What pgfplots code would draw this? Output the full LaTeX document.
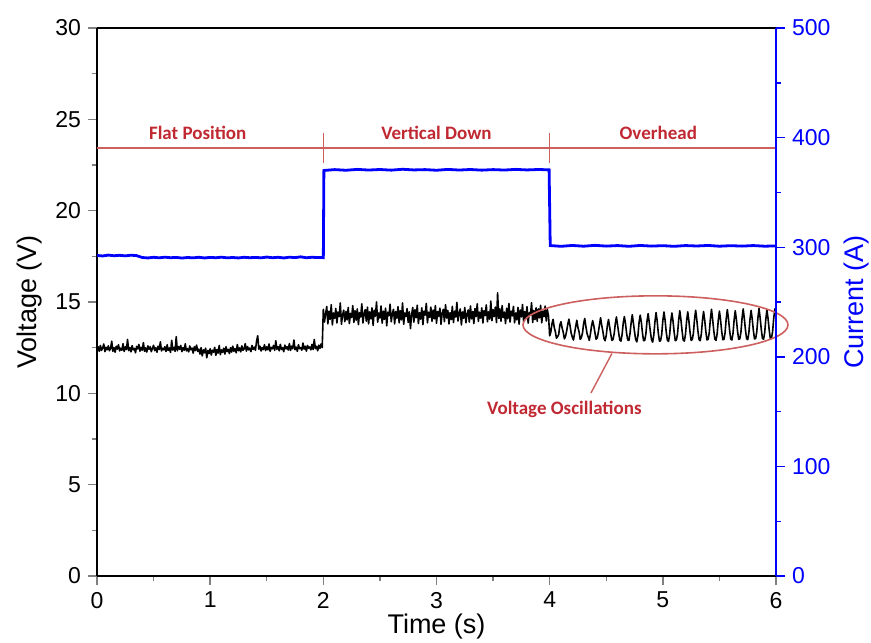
\documentclass[border=0pt]{standalone}
\usepackage{fontspec}
\setmainfont{Liberation Sans}
\newfontfamily\calfont{Carlito}
\usepackage{pgfplots}
\usepackage{pgfplotstable}
\pgfplotsset{compat=1.18}
\usetikzlibrary{calc}

\definecolor{annRed}{RGB}{192,40,50}
\definecolor{lineRed}{RGB}{205,95,95}

% welding voltage, 0.01 s steps
\pgfplotstableread[row sep=\\]{
t V\\
0.00 12.40\\ 0.01 12.55\\ 0.02 12.30\\ 0.03 12.62\\ 0.04 12.35\\ 0.05 12.48\\ 0.06 12.70\\ 0.07 12.28\\ 0.08 12.52\\ 0.09 12.38\\
0.10 12.60\\ 0.11 12.33\\ 0.12 12.45\\ 0.13 12.85\\ 0.14 12.30\\ 0.15 12.50\\ 0.16 12.25\\ 0.17 12.58\\ 0.18 12.42\\ 0.19 12.66\\
0.20 12.32\\ 0.21 12.47\\ 0.22 12.36\\ 0.23 12.72\\ 0.24 12.29\\ 0.25 12.55\\ 0.26 12.40\\ 0.27 12.95\\ 0.28 12.34\\ 0.29 12.50\\
0.30 12.27\\ 0.31 12.61\\ 0.32 12.38\\ 0.33 12.46\\ 0.34 12.22\\ 0.35 12.57\\ 0.36 12.43\\ 0.37 12.68\\ 0.38 12.31\\ 0.39 12.52\\
0.40 12.36\\ 0.41 12.78\\ 0.42 12.30\\ 0.43 12.49\\ 0.44 12.26\\ 0.45 12.60\\ 0.46 12.41\\ 0.47 12.55\\ 0.48 12.28\\ 0.49 12.46\\
0.50 12.63\\ 0.51 12.34\\ 0.52 12.50\\ 0.53 12.25\\ 0.54 12.58\\ 0.55 12.40\\ 0.56 12.82\\ 0.57 12.32\\ 0.58 12.47\\ 0.59 12.38\\
0.60 12.55\\ 0.61 12.29\\ 0.62 12.66\\ 0.63 12.35\\ 0.64 12.48\\ 0.65 12.24\\ 0.66 12.90\\ 0.67 12.37\\ 0.68 12.52\\ 0.69 12.30\\
0.70 13.10\\ 0.71 12.33\\ 0.72 12.56\\ 0.73 12.41\\ 0.74 12.62\\ 0.75 12.28\\ 0.76 12.50\\ 0.77 12.36\\ 0.78 12.71\\ 0.79 12.32\\
0.80 12.45\\ 0.81 12.27\\ 0.82 12.59\\ 0.83 12.38\\ 0.84 12.48\\ 0.85 12.20\\ 0.86 12.55\\ 0.87 12.34\\ 0.88 12.64\\ 0.89 12.30\\
0.90 12.42\\ 0.91 12.15\\ 0.92 12.50\\ 0.93 12.05\\ 0.94 12.38\\ 0.95 12.22\\ 0.96 12.47\\ 0.97 11.95\\ 0.98 12.35\\ 0.99 12.18\\
1.00 12.44\\ 1.01 12.10\\ 1.02 12.36\\ 1.03 12.25\\ 1.04 12.52\\ 1.05 12.08\\ 1.06 12.40\\ 1.07 12.20\\ 1.08 12.62\\ 1.09 12.12\\
1.10 12.38\\ 1.11 12.24\\ 1.12 12.47\\ 1.13 12.15\\ 1.14 12.55\\ 1.15 12.28\\ 1.16 12.41\\ 1.17 12.18\\ 1.18 12.50\\ 1.19 12.26\\
1.20 12.58\\ 1.21 12.30\\ 1.22 12.45\\ 1.23 12.22\\ 1.24 12.67\\ 1.25 12.33\\ 1.26 12.49\\ 1.27 12.27\\ 1.28 12.60\\ 1.29 12.35\\
1.30 12.44\\ 1.31 12.72\\ 1.32 12.31\\ 1.33 12.56\\ 1.34 12.38\\ 1.35 12.48\\ 1.36 12.28\\ 1.37 12.62\\ 1.38 12.40\\ 1.39 12.53\\
1.40 12.36\\ 1.41 12.85\\ 1.42 13.15\\ 1.43 12.42\\ 1.44 12.58\\ 1.45 12.32\\ 1.46 12.50\\ 1.47 12.40\\ 1.48 12.66\\ 1.49 12.34\\
1.50 12.55\\ 1.51 12.38\\ 1.52 12.70\\ 1.53 12.30\\ 1.54 12.52\\ 1.55 12.44\\ 1.56 12.62\\ 1.57 12.35\\ 1.58 12.88\\ 1.59 12.41\\
1.60 12.56\\ 1.61 12.33\\ 1.62 12.68\\ 1.63 12.40\\ 1.64 12.50\\ 1.65 12.28\\ 1.66 12.64\\ 1.67 12.43\\ 1.68 12.55\\ 1.69 12.37\\
1.70 12.72\\ 1.71 12.35\\ 1.72 12.58\\ 1.73 12.44\\ 1.74 12.92\\ 1.75 12.39\\ 1.76 12.53\\ 1.77 12.30\\ 1.78 12.66\\ 1.79 12.45\\
1.80 12.50\\ 1.81 12.36\\ 1.82 12.75\\ 1.83 12.42\\ 1.84 12.58\\ 1.85 12.31\\ 1.86 12.62\\ 1.87 12.47\\ 1.88 12.54\\ 1.89 12.38\\
1.90 12.68\\ 1.91 12.40\\ 1.92 12.95\\ 1.93 12.45\\ 1.94 12.57\\ 1.95 12.33\\ 1.96 12.63\\ 1.97 12.46\\ 1.98 12.70\\ 1.99 12.50\\
2.00 14.60\\ 2.01 13.90\\ 2.02 14.35\\ 2.03 14.75\\ 2.04 13.80\\ 2.05 14.50\\ 2.06 14.05\\ 2.07 14.85\\ 2.08 13.75\\ 2.09 14.40\\
2.10 14.10\\ 2.11 14.65\\ 2.12 13.85\\ 2.13 14.45\\ 2.14 14.20\\ 2.15 14.95\\ 2.16 13.78\\ 2.17 14.30\\ 2.18 14.55\\ 2.19 13.92\\
2.20 14.48\\ 2.21 14.02\\ 2.22 14.70\\ 2.23 13.82\\ 2.24 14.38\\ 2.25 14.15\\ 2.26 14.80\\ 2.27 13.88\\ 2.28 14.52\\ 2.29 14.00\\
2.30 14.62\\ 2.31 13.76\\ 2.32 14.42\\ 2.33 14.18\\ 2.34 14.90\\ 2.35 13.85\\ 2.36 14.35\\ 2.37 14.58\\ 2.38 13.95\\ 2.39 14.72\\
2.40 13.80\\ 2.41 14.46\\ 2.42 14.08\\ 2.43 14.68\\ 2.44 13.72\\ 2.45 14.55\\ 2.46 14.22\\ 2.47 15.00\\ 2.48 13.90\\ 2.49 14.40\\
2.50 14.12\\ 2.51 14.78\\ 2.52 13.84\\ 2.53 14.50\\ 2.54 14.05\\ 2.55 14.66\\ 2.56 13.70\\ 2.57 14.44\\ 2.58 14.25\\ 2.59 14.88\\
2.60 13.92\\ 2.61 14.36\\ 2.62 14.60\\ 2.63 13.80\\ 2.64 14.48\\ 2.65 14.10\\ 2.66 14.74\\ 2.67 13.86\\ 2.68 14.52\\ 2.69 14.02\\
2.70 14.95\\ 2.71 13.78\\ 2.72 14.40\\ 2.73 14.20\\ 2.74 14.64\\ 2.75 13.88\\ 2.76 14.46\\ 2.77 13.55\\ 2.78 14.30\\ 2.79 14.70\\
2.80 13.90\\ 2.81 14.58\\ 2.82 14.14\\ 2.83 14.82\\ 2.84 13.82\\ 2.85 14.42\\ 2.86 14.06\\ 2.87 14.68\\ 2.88 13.76\\ 2.89 14.50\\
2.90 14.28\\ 2.91 14.92\\ 2.92 13.86\\ 2.93 14.44\\ 2.94 14.16\\ 2.95 14.72\\ 2.96 13.94\\ 2.97 14.56\\ 2.98 14.08\\ 2.99 14.80\\
3.00 13.84\\ 3.01 14.48\\ 3.02 14.22\\ 3.03 14.66\\ 3.04 13.78\\ 3.05 14.38\\ 3.06 14.60\\ 3.07 13.92\\ 3.08 14.85\\ 3.09 14.12\\
3.10 14.54\\ 3.11 13.80\\ 3.12 14.42\\ 3.13 14.04\\ 3.14 14.76\\ 3.15 13.88\\ 3.16 14.50\\ 3.17 14.18\\ 3.18 14.98\\ 3.19 13.96\\
3.20 14.40\\ 3.21 14.62\\ 3.22 13.74\\ 3.23 14.46\\ 3.24 14.10\\ 3.25 14.70\\ 3.26 13.86\\ 3.27 14.34\\ 3.28 14.56\\ 3.29 13.90\\
3.30 14.78\\ 3.31 14.08\\ 3.32 14.48\\ 3.33 13.82\\ 3.34 14.64\\ 3.35 14.20\\ 3.36 14.90\\ 3.37 13.94\\ 3.38 14.44\\ 3.39 14.12\\
3.40 14.68\\ 3.41 13.85\\ 3.42 14.52\\ 3.43 14.26\\ 3.44 14.84\\ 3.45 13.92\\ 3.46 14.46\\ 3.47 14.06\\ 3.48 15.05\\ 3.49 13.98\\
3.50 14.58\\ 3.51 14.20\\ 3.52 14.72\\ 3.53 13.88\\ 3.54 15.50\\ 3.55 14.10\\ 3.56 14.62\\ 3.57 13.95\\ 3.58 14.80\\ 3.59 14.15\\
3.60 14.45\\ 3.61 13.82\\ 3.62 14.66\\ 3.63 14.08\\ 3.64 14.92\\ 3.65 13.90\\ 3.66 14.50\\ 3.67 14.24\\ 3.68 14.76\\ 3.69 13.86\\
3.70 14.40\\ 3.71 14.02\\ 3.72 14.70\\ 3.73 13.78\\ 3.74 14.56\\ 3.75 14.18\\ 3.76 14.86\\ 3.77 13.92\\ 3.78 14.48\\ 3.79 14.10\\
3.80 14.74\\ 3.81 13.84\\ 3.82 14.42\\ 3.83 14.28\\ 3.84 14.96\\ 3.85 13.88\\ 3.86 14.54\\ 3.87 14.04\\ 3.88 14.68\\ 3.89 13.94\\
3.90 14.62\\ 3.91 14.14\\ 3.92 14.82\\ 3.93 13.86\\ 3.94 14.50\\ 3.95 14.20\\ 3.96 14.78\\ 3.97 13.96\\ 3.98 14.58\\ 3.99 14.22\\
4.00 13.15\\ 4.01 13.35\\ 4.02 13.80\\ 4.03 14.05\\ 4.04 13.62\\ 4.05 13.38\\ 4.06 13.02\\
4.07 13.10\\ 4.08 13.22\\ 4.09 13.74\\ 4.10 13.92\\ 4.11 13.58\\ 4.12 13.34\\ 4.13 12.98\\
4.14 13.12\\ 4.15 13.40\\ 4.16 13.78\\ 4.17 14.06\\ 4.18 13.70\\ 4.19 13.30\\ 4.20 13.08\\
4.21 12.92\\ 4.22 13.28\\ 4.23 13.65\\ 4.24 14.00\\ 4.25 13.60\\ 4.26 13.36\\ 4.27 12.95\\
4.28 13.05\\ 4.29 13.30\\ 4.30 13.82\\ 4.31 14.10\\ 4.32 13.66\\ 4.33 13.28\\ 4.34 13.10\\
4.35 12.90\\ 4.36 13.25\\ 4.37 13.68\\ 4.38 13.98\\ 4.39 13.70\\ 4.40 13.32\\ 4.41 12.96\\
4.42 13.02\\ 4.43 13.34\\ 4.44 13.75\\ 4.45 14.14\\ 4.46 13.72\\ 4.47 13.40\\ 4.48 13.00\\
4.49 12.88\\ 4.50 13.18\\ 4.51 13.72\\ 4.52 14.04\\ 4.53 13.64\\ 4.54 13.24\\ 4.55 12.90\\
4.56 12.95\\ 4.57 13.26\\ 4.58 13.82\\ 4.59 14.18\\ 4.60 13.74\\ 4.61 13.30\\ 4.62 12.92\\
4.63 12.86\\ 4.64 13.22\\ 4.65 13.84\\ 4.66 14.20\\ 4.67 13.82\\ 4.68 13.28\\ 4.69 12.92\\
4.70 12.90\\ 4.71 13.28\\ 4.72 13.86\\ 4.73 14.30\\ 4.74 13.84\\ 4.75 13.36\\ 4.76 12.95\\
4.77 12.82\\ 4.78 13.16\\ 4.79 13.88\\ 4.80 14.28\\ 4.81 13.90\\ 4.82 13.30\\ 4.83 12.88\\
4.84 12.90\\ 4.85 13.24\\ 4.86 13.94\\ 4.87 14.36\\ 4.88 13.88\\ 4.89 13.38\\ 4.90 12.94\\
4.91 12.80\\ 4.92 13.18\\ 4.93 13.90\\ 4.94 14.42\\ 4.95 13.96\\ 4.96 13.30\\ 4.97 12.86\\
4.98 12.88\\ 4.99 13.22\\ 5.00 13.98\\ 5.01 14.45\\ 5.02 14.00\\ 5.03 13.36\\ 5.04 12.92\\
5.05 12.84\\ 5.06 13.20\\ 5.07 13.92\\ 5.08 14.40\\ 5.09 13.96\\ 5.10 13.34\\ 5.11 12.88\\
5.12 12.92\\ 5.13 13.26\\ 5.14 14.02\\ 5.15 14.52\\ 5.16 14.02\\ 5.17 13.42\\ 5.18 12.92\\
5.19 12.86\\ 5.20 13.22\\ 5.21 13.96\\ 5.22 14.46\\ 5.23 13.98\\ 5.24 13.36\\ 5.25 12.90\\
5.26 12.94\\ 5.27 13.28\\ 5.28 14.04\\ 5.29 14.55\\ 5.30 14.04\\ 5.31 13.42\\ 5.32 12.95\\
5.33 12.88\\ 5.34 13.24\\ 5.35 13.98\\ 5.36 14.48\\ 5.37 14.00\\ 5.38 13.38\\ 5.39 12.92\\
5.40 12.96\\ 5.41 13.30\\ 5.42 14.06\\ 5.43 14.60\\ 5.44 14.06\\ 5.45 13.44\\ 5.46 12.96\\
5.47 12.90\\ 5.48 13.26\\ 5.49 14.00\\ 5.50 14.50\\ 5.51 14.02\\ 5.52 13.40\\ 5.53 12.94\\
5.54 12.95\\ 5.55 13.32\\ 5.56 14.08\\ 5.57 14.58\\ 5.58 14.08\\ 5.59 13.45\\ 5.60 12.98\\
5.61 12.92\\ 5.62 13.28\\ 5.63 14.02\\ 5.64 14.52\\ 5.65 14.04\\ 5.66 13.42\\ 5.67 12.96\\
5.68 12.98\\ 5.69 13.34\\ 5.70 14.10\\ 5.71 14.62\\ 5.72 14.10\\ 5.73 13.48\\ 5.74 13.00\\
5.75 12.94\\ 5.76 13.30\\ 5.77 14.04\\ 5.78 14.54\\ 5.79 14.06\\ 5.80 13.44\\ 5.81 12.98\\
5.82 13.00\\ 5.83 13.36\\ 5.84 14.12\\ 5.85 14.64\\ 5.86 14.12\\ 5.87 13.50\\ 5.88 13.02\\
5.89 12.96\\ 5.90 13.32\\ 5.91 14.06\\ 5.92 14.56\\ 5.93 14.08\\ 5.94 13.46\\ 5.95 13.00\\
5.96 13.02\\ 5.97 13.38\\ 5.98 14.12\\ 5.99 14.62\\ 6.00 14.14\\
}\voltage

% welding current
\pgfplotstableread[row sep=\\]{
t I\\
0.00 292.5\\ 0.05 292.0\\ 0.10 292.8\\ 0.15 292.2\\ 0.20 292.6\\ 0.25 292.1\\ 0.30 292.7\\ 0.35 292.3\\ 0.40 290.6\\ 0.45 290.2\\
0.50 290.8\\ 0.55 290.3\\ 0.60 290.9\\ 0.65 290.4\\ 0.70 290.7\\ 0.75 290.1\\ 0.80 290.6\\ 0.85 290.3\\ 0.90 290.8\\ 0.95 290.2\\
1.00 290.7\\ 1.05 290.4\\ 1.10 290.9\\ 1.15 290.3\\ 1.20 290.6\\ 1.25 290.2\\ 1.30 290.8\\ 1.35 290.4\\ 1.40 290.7\\ 1.45 290.3\\
1.50 291.0\\ 1.55 290.4\\ 1.60 290.8\\ 1.65 290.2\\ 1.70 290.9\\ 1.75 290.5\\ 1.80 291.2\\ 1.85 290.4\\ 1.90 290.8\\ 1.95 290.6\\
2.00 290.5\\ 2.005 370.0\\ 2.10 370.8\\ 2.20 370.2\\ 2.30 371.0\\ 2.40 370.4\\ 2.50 370.9\\ 2.60 370.3\\ 2.70 371.1\\ 2.80 370.5\\
2.90 370.8\\ 3.00 370.2\\ 3.10 371.0\\ 3.20 370.4\\ 3.30 370.9\\ 3.40 370.3\\ 3.50 370.8\\ 3.60 370.4\\ 3.70 371.0\\ 3.80 370.5\\
3.90 370.9\\ 3.995 370.6\\ 4.005 301.5\\ 4.10 300.8\\ 4.20 301.6\\ 4.30 300.9\\ 4.40 301.7\\ 4.50 301.0\\ 4.60 301.5\\ 4.70 300.8\\
4.80 301.6\\ 4.90 301.0\\ 5.00 301.4\\ 5.10 300.8\\ 5.20 301.5\\ 5.30 301.1\\ 5.40 301.6\\ 5.50 300.9\\ 5.60 301.4\\ 5.70 301.0\\
5.80 301.5\\ 5.90 300.9\\ 6.00 301.2\\
}\current

\begin{document}
\begin{tikzpicture}
\pgfplotsset{
  base/.style={
    scale only axis, width=339.5pt, height=274pt,
    xmin=0, xmax=6,
    major tick length=4.5pt, minor tick length=2.5pt,
    every tick/.append style={line width=0.7pt},
    tick label style={font=\fontsize{11.5}{13}\selectfont},
    label style={font=\fontsize{13.5}{15}\selectfont},
    /pgf/number format/assume math mode=true,
  }
}
\begin{axis}[base, name=ax,
  ymin=0, ymax=30,
  axis x line*=bottom, axis y line*=left,
  axis line style={line width=0.8pt, -},
  xtick align=outside, ytick align=outside,
  xtick={0,1,...,6}, minor x tick num=1,
  ytick={0,5,...,30}, minor y tick num=1,
  xlabel={Time (s)}, ylabel={Voltage (V)},
  xlabel style={yshift=4pt},
  clip=false,
]
\addplot[black, line width=0.8pt, line join=round] table[x=t, y=V] {\voltage};

% top frame line
\draw[black, line width=0.8pt] (rel axis cs:0,1) -- (rel axis cs:1,1);

% welding position segments
\draw[lineRed, line width=0.7pt] (axis cs:0,23.43) -- (axis cs:6,23.43);
\draw[lineRed, line width=0.7pt] (axis cs:2,24.25) -- (axis cs:2,22.6);
\draw[lineRed, line width=0.7pt] (axis cs:4,24.25) -- (axis cs:4,22.6);
\node[annRed, font=\calfont\bfseries\fontsize{9.5}{11}\selectfont] at (axis cs:0.89,24.25) {Flat Position};
\node[annRed, font=\calfont\bfseries\fontsize{9.5}{11}\selectfont] at (axis cs:3.0,24.25) {Vertical Down};
\node[annRed, font=\calfont\bfseries\fontsize{9.5}{11}\selectfont] at (axis cs:4.96,24.25) {Overhead};

% oscillation callout
\draw[lineRed, line width=0.8pt] (axis cs:4.935,13.75) ellipse [x radius=66.25pt, y radius=14.5pt];
\draw[lineRed, line width=0.7pt] (axis cs:4.55,12.18) -- (axis cs:4.365,10.02);
\node[annRed, font=\calfont\bfseries\fontsize{9.5}{11}\selectfont] at (axis cs:4.13,9.1) {Voltage Oscillations};
\end{axis}

\begin{axis}[base,
  ymin=0, ymax=500,
  axis x line=none, axis y line*=right,
  axis line style={line width=0.8pt, -},
  y axis line style={blue},
  ytick align=outside,
  ytick={0,100,...,500}, minor y tick num=1,
  tick style={blue},
  yticklabel style={blue}, ylabel style={blue},
  ylabel={Current (A)},
]
\addplot[blue, line width=1.4pt] table[x=t, y=I] {\current};
\end{axis}

\pgfresetboundingbox
\path ($(ax.south west)+(-48.5pt,-33pt)$) rectangle ($(ax.north east)+(47.5pt,14pt)$);
\end{tikzpicture}
\end{document}
